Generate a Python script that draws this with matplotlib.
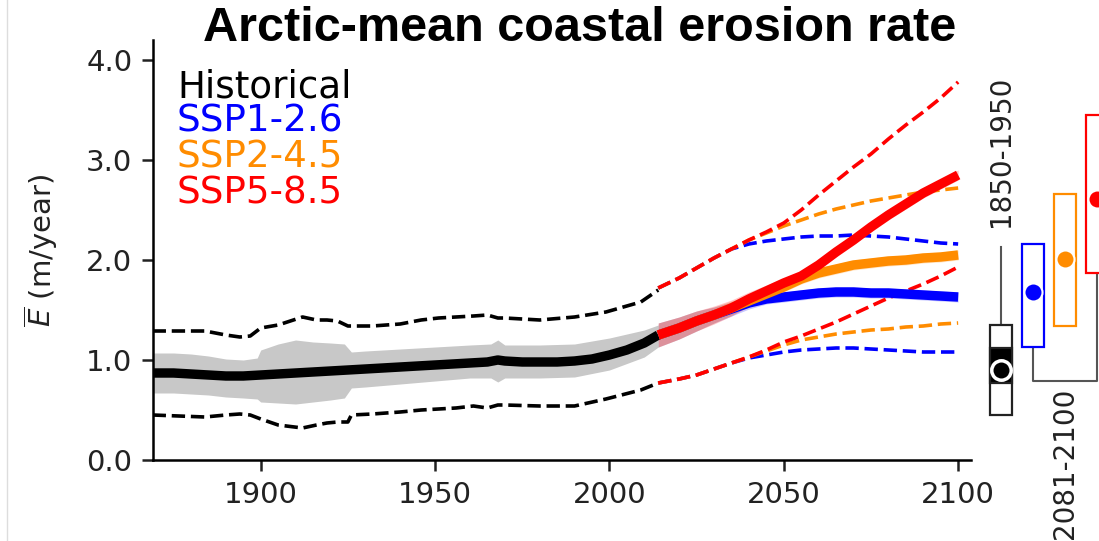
import matplotlib
matplotlib.use("Agg")
import matplotlib.pyplot as plt
from matplotlib.lines import Line2D

plt.rcParams["font.family"] = ["DejaVu Sans"]
plt.rcParams["mathtext.fontset"] = "dejavusans"

# --- historical ensemble (rolling mean) ---
hist_years = [1869, 1875, 1880, 1885, 1890, 1895, 1900, 1905, 1910, 1915, 1920, 1925,
              1930, 1935, 1940, 1945, 1950, 1955, 1960, 1965, 1968, 1970, 1975, 1980,
              1985, 1990, 1995, 2000, 2005, 2010, 2014]
hist_mean = [0.87, 0.87, 0.86, 0.85, 0.84, 0.84, 0.85, 0.86, 0.87, 0.88, 0.89, 0.90,
             0.91, 0.92, 0.93, 0.94, 0.95, 0.96, 0.97, 0.98, 1.00, 0.99, 0.98, 0.98,
             0.98, 0.99, 1.01, 1.05, 1.10, 1.17, 1.25]

band_years = [1869, 1875, 1880, 1885, 1890, 1895, 1899, 1900, 1905, 1910, 1915, 1920,
              1924, 1926, 1930, 1940, 1950, 1960, 1966, 1968, 1970, 1980, 1990, 2000,
              2010, 2014]
band_lo = [0.67, 0.67, 0.66, 0.65, 0.63, 0.62, 0.61, 0.58, 0.57, 0.56, 0.58, 0.60,
           0.62, 0.72, 0.73, 0.76, 0.79, 0.82, 0.82, 0.78, 0.82, 0.82, 0.83, 0.90,
           1.03, 1.13]
band_hi = [1.07, 1.07, 1.06, 1.04, 1.01, 1.00, 1.02, 1.10, 1.16, 1.20, 1.18, 1.17,
           1.16, 1.08, 1.09, 1.11, 1.13, 1.15, 1.16, 1.20, 1.15, 1.15, 1.16, 1.22,
           1.30, 1.35]

dash_years = [1869, 1884, 1890, 1894, 1897, 1900, 1905, 1912, 1916, 1919, 1922, 1925,
              1926, 1932, 1940, 1946, 1951, 1956, 1961, 1965, 1968, 1970, 1980, 1990,
              1999, 2009, 2014]
hist_upper = [1.29, 1.29, 1.25, 1.23, 1.24, 1.32, 1.35, 1.43, 1.40, 1.40, 1.39, 1.34,
              1.34, 1.34, 1.36, 1.40, 1.42, 1.43, 1.44, 1.45, 1.42, 1.42, 1.40, 1.43,
              1.48, 1.58, 1.70]
hist_lower = [0.45, 0.43, 0.45, 0.46, 0.45, 0.41, 0.35, 0.32, 0.35, 0.37, 0.38, 0.38,
              0.45, 0.46, 0.48, 0.50, 0.51, 0.52, 0.54, 0.52, 0.55, 0.55, 0.54, 0.54,
              0.61, 0.70, 0.77]

# --- scenario projections ---
fut_years = [2014, 2020, 2025, 2030, 2035, 2040, 2045, 2050, 2055, 2060, 2065, 2070,
             2075, 2080, 2085, 2090, 2095, 2100]

ssp126_mean = [1.25, 1.32, 1.39, 1.45, 1.51, 1.57, 1.61, 1.63, 1.65, 1.67, 1.68, 1.68,
               1.67, 1.67, 1.66, 1.65, 1.64, 1.63]
ssp245_mean = [1.25, 1.32, 1.39, 1.45, 1.52, 1.59, 1.66, 1.73, 1.81, 1.87, 1.91, 1.95,
               1.97, 1.99, 2.00, 2.02, 2.03, 2.05]
ssp585_mean = [1.25, 1.32, 1.39, 1.45, 1.52, 1.61, 1.69, 1.77, 1.84, 1.95, 2.08, 2.20,
               2.33, 2.45, 2.56, 2.67, 2.76, 2.85]

ssp126_spread = [0.12, 0.11, 0.10, 0.08, 0.07, 0.06, 0.05, 0.05, 0.05, 0.05, 0.05, 0.05,
                 0.05, 0.05, 0.05, 0.05, 0.05, 0.05]
ssp245_spread = [0.12, 0.11, 0.10, 0.08, 0.07, 0.06, 0.05, 0.05, 0.05, 0.05, 0.05, 0.05,
                 0.05, 0.05, 0.05, 0.05, 0.05, 0.05]
ssp585_spread = [0.12, 0.11, 0.10, 0.09, 0.08, 0.07, 0.06, 0.05, 0.05, 0.05, 0.05, 0.05,
                 0.05, 0.05, 0.05, 0.05, 0.05, 0.05]

ssp126_upper = [1.72, 1.82, 1.92, 2.02, 2.11, 2.16, 2.19, 2.21, 2.23, 2.24, 2.24, 2.25,
                2.24, 2.23, 2.21, 2.19, 2.17, 2.16]
ssp245_upper = [1.72, 1.82, 1.92, 2.02, 2.11, 2.20, 2.27, 2.34, 2.40, 2.46, 2.51, 2.55,
                2.59, 2.62, 2.65, 2.68, 2.70, 2.72]
ssp585_upper = [1.72, 1.82, 1.92, 2.02, 2.11, 2.20, 2.28, 2.37, 2.50, 2.65, 2.79, 2.93,
                3.06, 3.21, 3.35, 3.48, 3.62, 3.78]

ssp126_lower = [0.77, 0.81, 0.85, 0.91, 0.97, 1.02, 1.05, 1.08, 1.10, 1.11, 1.12, 1.12,
                1.11, 1.10, 1.09, 1.08, 1.08, 1.08]
ssp245_lower = [0.77, 0.81, 0.85, 0.91, 0.97, 1.03, 1.09, 1.15, 1.20, 1.23, 1.26, 1.28,
                1.30, 1.31, 1.33, 1.34, 1.36, 1.37]
ssp585_lower = [0.77, 0.81, 0.85, 0.91, 0.97, 1.03, 1.10, 1.18, 1.24, 1.31, 1.38, 1.46,
                1.54, 1.62, 1.69, 1.76, 1.84, 1.93]

# --- period summary boxes (1850-1950, then 2081-2100 per scenario) ---
box_labels = ["Historical", "SSP1-2.6", "SSP2-4.5", "SSP5-8.5"]
box_colors = ["black", "blue", "darkorange", "red"]
box_lo = [0.45, 1.13, 1.34, 1.87]
box_hi = [1.35, 2.16, 2.66, 3.45]
box_mid = [0.90, 1.68, 2.01, 2.61]
hist_iqr = [0.77, 1.12]

W, H = 1099, 541
fig = plt.figure(figsize=(W / 100, H / 100), dpi=100)

ax_l, ax_b, ax_w, ax_h = 153.3, 81, 817.4, 420
ax = fig.add_axes([ax_l / W, ax_b / H, ax_w / W, ax_h / H])

ax.fill_between(band_years, band_lo, band_hi, color="#c8c8c8", lw=0)
ax.plot(hist_years, hist_mean, color="black", lw=6.8, solid_capstyle="butt")
ax.plot(dash_years, hist_upper, color="black", ls="--", lw=2.6)
ax.plot(dash_years, hist_lower, color="black", ls="--", lw=2.6)

scen = [
    ("blue", ssp126_mean, ssp126_spread, ssp126_upper, ssp126_lower),
    ("darkorange", ssp245_mean, ssp245_spread, ssp245_upper, ssp245_lower),
    ("red", ssp585_mean, ssp585_spread, ssp585_upper, ssp585_lower),
]
for col, m, s, up, lo in scen:
    ax.fill_between(fut_years, [a - b for a, b in zip(m, s)], [a + b for a, b in zip(m, s)],
                    color=col, alpha=0.22, lw=0)
for col, m, s, up, lo in scen:
    ax.plot(fut_years, up, color=col, ls="--", lw=2.6)
    ax.plot(fut_years, lo, color=col, ls="--", lw=2.6)
for col, m, s, up, lo in scen:
    ax.plot(fut_years, m, color=col, lw=6.8, solid_capstyle="butt")

ax.set_xlim(1869.2, 2103.6)
ax.set_ylim(0, 4.2)
ax.set_xticks([1900, 1950, 2000, 2050, 2100])
ax.set_yticks([0, 1, 2, 3, 4])
ax.set_yticklabels(["0.0", "1.0", "2.0", "3.0", "4.0"])
for sp in ["top", "right"]:
    ax.spines[sp].set_visible(False)
for sp in ["left", "bottom"]:
    ax.spines[sp].set_linewidth(1.8)
ax.tick_params(labelsize=21, width=1.8, length=8, pad=7, colors="#222222")
ax.set_ylabel(r"$\overline{E}$ (m/year)", fontsize=21, color="#222222")
ax.yaxis.set_label_coords((60 - ax_l) / ax_w, 0.5)

# coloured legend text
leg_y = [97, 132, 168, 204]
for lab, col, yp in zip(box_labels, box_colors, leg_y):
    ax.text((177 - ax_l) / ax_w, (460 - yp) / ax_h, lab, color=col, fontsize=26.8,
            transform=ax.transAxes, va="baseline", ha="left")

# --- box panel on the right ---
bx = fig.add_axes([975 / W, ax_b / H, 160 / W, ax_h / H])
bx.set_xlim(0.1875, 5.1875)
bx.set_ylim(0, 4.2)
bx.axis("off")
pos = [1, 2, 3, 4]
conn = "#555555"
bx.plot([1, 1], [box_hi[0], 2.13], color=conn, lw=1.5, zorder=1)
bx.plot([2, 2, 4, 4], [box_lo[1], 0.79, 0.79, box_lo[3]], color=conn, lw=1.5, zorder=1)
for p, lo, hi, col in zip(pos, box_lo, box_hi, box_colors):
    ec = "#222222" if col == "black" else col
    bx.bar(p, hi - lo, bottom=lo, width=0.66, color="white", edgecolor=ec, lw=1.6, zorder=2)
bx.bar(1, hist_iqr[1] - hist_iqr[0], bottom=hist_iqr[0], width=0.66, color="black",
       edgecolor="#222222", lw=1.6, zorder=3)
for p, m, col in zip(pos, box_mid, box_colors):
    if col == "black":
        bx.plot(p, m, "o", color="black", ms=14, mec="white", mew=2.5, zorder=4)
    else:
        bx.plot(p, m, "o", color=col, ms=13, mec="white", mew=1.5, zorder=4)
bx.text(1, 2.33, "1850-1950", rotation=90, ha="center", va="bottom", fontsize=20,
        color="#222222")
bx.text(3, 0.72, "2081-2100", rotation=90, ha="center", va="top", fontsize=20,
        color="#222222")

fig.text(580 / W, 1 - 41 / H, "Arctic-mean coastal erosion rate", fontsize=35,
         fontweight="bold", family="Liberation Sans", ha="center", va="baseline")
fig.add_artist(Line2D([7 / W, 7 / W], [0, 1], color="#dddddd", lw=1,
                      transform=fig.transFigure))

fig.savefig("out.png", dpi=100, facecolor="white")
